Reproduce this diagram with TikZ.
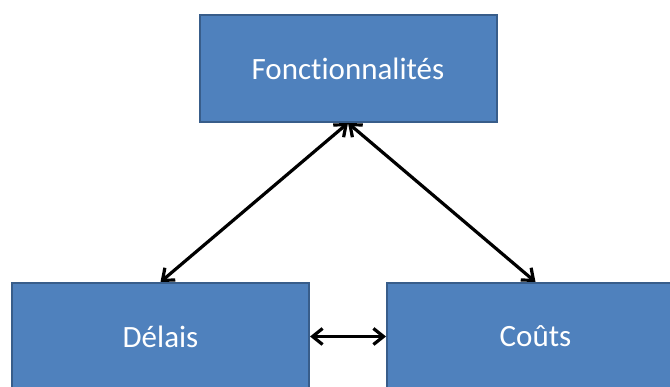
\documentclass[tikz,border=0pt]{standalone}
\usepackage{fontspec}
\setmainfont{Carlito}[Ligatures=NoCommon]
\usetikzlibrary{arrows.meta}
\definecolor{boxfill}{HTML}{4F81BD}
\definecolor{boxline}{HTML}{385D8A}
\begin{document}
\begin{tikzpicture}[x=1pt,y=-1pt,
  block/.style={draw=boxline,fill=boxfill,line width=2pt,
    minimum width=297pt,minimum height=107pt,inner sep=0pt,
    text=white,font=\fontsize{31}{36}\selectfont},
  link/.style={line width=3.2pt,black,
    {Straight Barb[length=10pt,width=16pt,line width=3.2pt]}-{Straight Barb[length=10pt,width=16pt,line width=3.2pt]}}]
  \useasboundingbox (0,0) rectangle (670,387);
  \clip (0,0) rectangle (670,387);
  \node[block] (f) at (348,68.5) {Fonctionnalités};
  \node[block] (d) at (160.5,336.5) {Délais};
  \node[block] (c) at (535.5,336.5) {Coûts};
  \draw[link] (f.south) -- (d.north);
  \draw[link] (f.south) -- (c.north);
  \draw[link] (d.east) -- (c.west);
\end{tikzpicture}
\end{document}
